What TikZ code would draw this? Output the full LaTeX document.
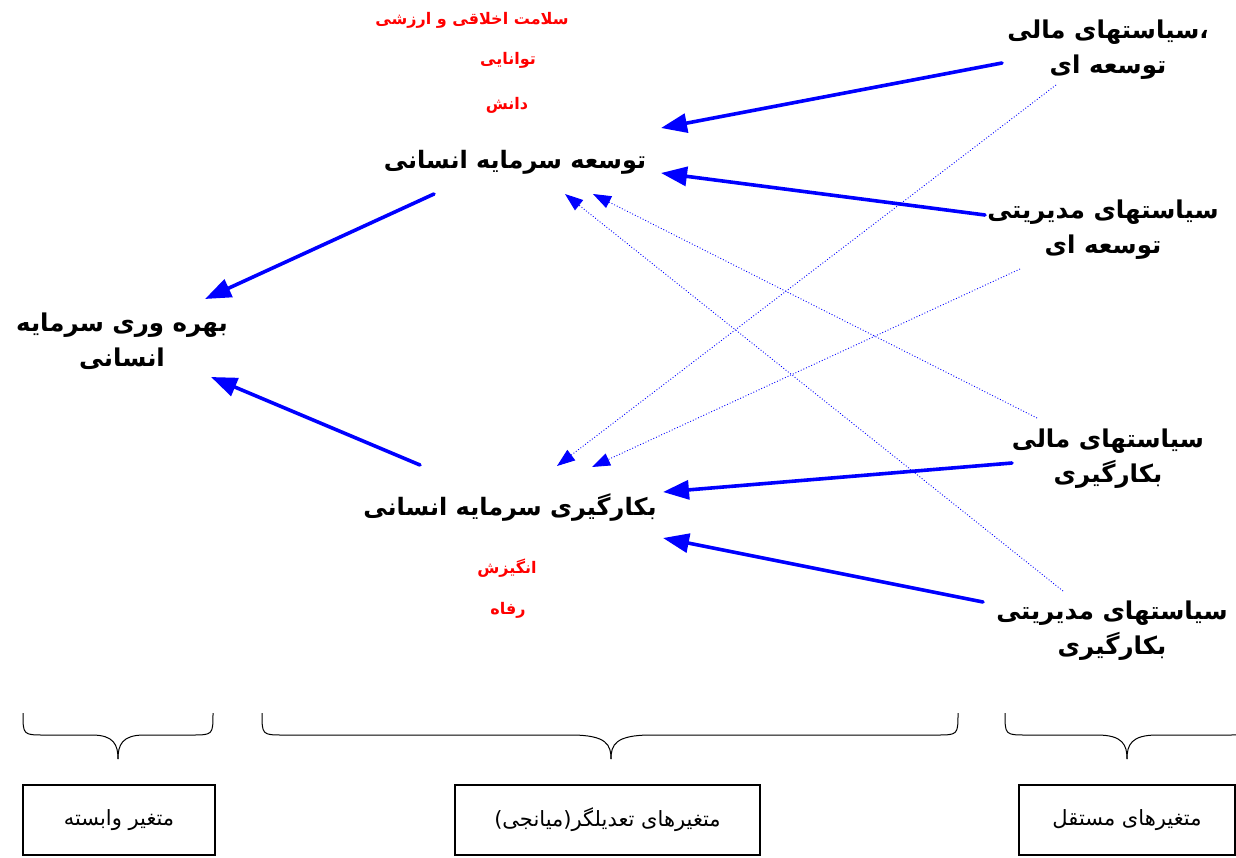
\documentclass[tikz,border=0pt]{standalone}
\usepackage{fontspec}
\usepackage{xcolor}
\usepackage{tikz}
\usetikzlibrary{arrows.meta}
\TeXXeTstate=1
\newfontfamily\farsi[Script=Arabic]{DejaVu Sans}
\newcommand{\fatext}[1]{\beginR #1\endR}
\definecolor{ink}{HTML}{000000}
\definecolor{accent}{HTML}{FF0000}
\definecolor{link}{HTML}{0000FF}
\tikzset{
  main/.style={text=ink, font=\farsi\bfseries\fontsize{24}{28}\selectfont, align=center, inner sep=0pt},
  side/.style={text=ink, font=\farsi\bfseries\fontsize{24.5}{35}\selectfont, align=center, inner sep=0pt},
  note/.style={text=accent, font=\farsi\bfseries\fontsize{16}{18}\selectfont, inner sep=0pt},
  flow/.style={draw=link, line width=3.6pt, line cap=round, -{Triangle[length=26pt, width=19pt]}},
  feed/.style={draw=link, line width=0.9pt, dotted, -{Triangle[length=18pt, width=13pt]}},
  brc/.style={draw=ink, line width=1pt},
  kind/.style={draw=ink, line width=1.1pt, minimum height=70pt, font=\farsi\fontsize{21}{24}\selectfont},
}
\newcommand{\vbrace}[4]{% left, right, tip, curve width
  \draw[brc] (#1,713) .. controls (#1,735) .. (#1+22,735) -- (#3-#4,735)
    .. controls (#3-4,735) and (#3,745) .. (#3,759);
  \draw[brc] (#2,713) .. controls (#2,735) .. (#2-22,735) -- (#3+#4,735)
    .. controls (#3+4,735) and (#3,745) .. (#3,759);
}
\begin{document}
\begin{tikzpicture}[x=1pt, y=-1pt]
  \useasboundingbox (0,0) rectangle (1236,857);
  % mediating variables
  \node[note] (ethic) at (472,20) {\fatext{سلامت اخلاقی و ارزشی}};
  \node[note] (able)  at (508,60) {\fatext{توانایی}};
  \node[note] (know)  at (507,105) {\fatext{دانش}};
  \node[main] (dev) at (515,162) {\fatext{توسعه سرمایه انسانی}};
  \node[main] (use) at (510,508) {\fatext{بکارگیری سرمایه انسانی}};
  \node[note] (motiv)   at (507,568) {\fatext{انگیزش}};
  \node[note] (welfare) at (508,610) {\fatext{رفاه}};
  % dependent variable
  \node[side] (prod) at (122,341) {\fatext{بهره وری سرمایه}\\\fatext{انسانی}};
  % independent variables
  \node[side] (finDev)  at (1108,50)  {\fatext{،سیاستهای مالی}\\\fatext{توسعه ای}};
  \node[side] (mgmtDev) at (1103,230) {\fatext{سیاستهای مدیریتی}\\\fatext{توسعه ای}};
  \node[side] (finUse)  at (1108,459) {\fatext{سیاستهای مالی}\\\fatext{بکارگیری}};
  \node[side] (mgmtUse) at (1112,631) {\fatext{سیاستهای مدیریتی}\\\fatext{بکارگیری}};
  % main effects
  \draw[flow] ([shift={(-106,13)}]finDev.center) -- ([shift={(146,-34)}]dev.center);
  \draw[flow] ([shift={(-118,-15)}]mgmtDev.center) -- ([shift={(146,11)}]dev.center);
  \draw[flow] ([shift={(-81,32)}]dev.center) -- ([shift={(83,-42)}]prod.center);
  \draw[flow] ([shift={(-90,-43)}]use.center) -- ([shift={(89,36)}]prod.center);
  \draw[flow] ([shift={(-96,4)}]finUse.center) -- ([shift={(153,-16)}]use.center);
  \draw[flow] ([shift={(-129,-29)}]mgmtUse.center) -- ([shift={(153,30)}]use.center);
  % cross effects
  \draw[feed] ([shift={(-52,35)}]finDev.center) -- ([shift={(47,-42)}]use.center);
  \draw[feed] ([shift={(-83,39)}]mgmtDev.center) -- ([shift={(82,-41)}]use.center);
  \draw[feed] ([shift={(-71,-41)}]finUse.center) -- ([shift={(78,32)}]dev.center);
  \draw[feed] ([shift={(-49,-40)}]mgmtUse.center) -- ([shift={(50,32)}]dev.center);
  % groups
  \vbrace{23}{213}{118}{26}
  \vbrace{262}{958}{611}{40}
  \vbrace{1005}{1249}{1127}{30}
  \node[kind, minimum width=192pt] (depBox) at (119,820) {\fatext{متغیر وابسته}};
  \node[kind, minimum width=305pt] (modBox) at (607.5,820) {\fatext{متغیرهای تعدیلگر(میانجی)}};
  \node[kind, minimum width=216pt] (indBox) at (1127,820) {\fatext{متغیرهای مستقل}};
\end{tikzpicture}
\end{document}
